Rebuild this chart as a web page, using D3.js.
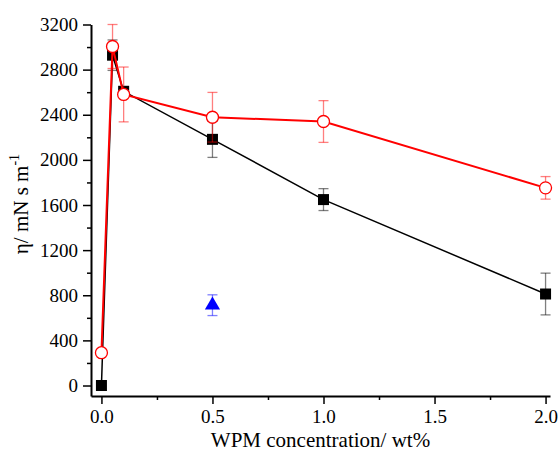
<!DOCTYPE html>
<html>
<head>
<meta charset="utf-8">
<script src="https://d3js.org/d3.v7.min.js"></script>
<style>
	body { margin: 0; background: #fff; }
</style>
</head>
<body>
<div id="plot"></div>
<script>
	// ----- Data -----
	const conc = [0, 0.05, 0.1, 0.5, 1.0, 2.0];
	const black_vals = [0, 2928, 2608, 2182, 1648, 811];
	const black_err = [0, 135, 20, 160, 97, 185];
	const red_vals = [291, 3005, 2580, 2378, 2340, 1752];
	const red_err = [0, 195, 243, 220, 185, 100];
	const blue_conc = [0.5];
	const blue_vals = [712];
	const blue_err = [92];
	const y_ticks = [0, 400, 800, 1200, 1600, 2000, 2400, 2800, 3200];
	const y_minor = [200, 600, 1000, 1400, 1800, 2200, 2600, 3000];
	const x_ticks = [0, 0.5, 1.0, 1.5, 2.0];
	const x_minor = [0.25, 0.75, 1.25, 1.75];

	const W = 559, H = 458;
	const plot_left = 91, plot_right = 550, plot_top = 24.5, plot_bottom = 396;
	const serif = "'Liberation Serif'";

	const svg = d3.select("#plot").append("svg")
		.attr("width", W)
		.attr("height", H);

	const x = d3.scaleLinear().domain([-0.047, 2.02]).range([plot_left, plot_right]);
	const y = d3.scaleLinear().domain([-93, 3200]).range([plot_bottom, plot_top]);

	// ----- Axes -----
	svg.append("g").attr("class", "axis")
		.attr("transform", "translate(0," + plot_bottom + ")")
		.call(d3.axisBottom(x).tickValues(x_ticks).tickFormat(d3.format(".1f"))
			.tickSize(8).tickSizeOuter(0).tickPadding(6));
	svg.append("g").attr("class", "axis")
		.attr("transform", "translate(0," + plot_bottom + ")")
		.call(d3.axisBottom(x).tickValues(x_minor).tickFormat("").tickSize(4).tickSizeOuter(0))
		.select(".domain").remove();

	svg.append("g").attr("class", "axis")
		.attr("transform", "translate(" + plot_left + ",0)")
		.call(d3.axisLeft(y).tickValues(y_ticks).tickFormat(d3.format("d"))
			.tickSize(8).tickSizeOuter(0).tickPadding(5));
	svg.append("g").attr("class", "axis")
		.attr("transform", "translate(" + plot_left + ",0)")
		.call(d3.axisLeft(y).tickValues(y_minor).tickFormat("").tickSize(4).tickSizeOuter(0))
		.select(".domain").remove();

	svg.selectAll(".axis").attr("font-family", null).attr("font-size", null);
	svg.selectAll(".axis .domain").attr("stroke", "#000").attr("stroke-width", 2);
	svg.selectAll(".axis line").attr("stroke", "#000").attr("stroke-width", 1.5);
	svg.selectAll(".axis text")
		.style("font-family", serif)
		.style("font-size", "19px")
		.attr("fill", "#000");

	// axis titles
	svg.append("text")
		.attr("x", (plot_left + plot_right) / 2)
		.attr("y", 447)
		.attr("text-anchor", "middle")
		.style("font-family", serif)
		.style("font-size", "21px")
		.text("WPM concentration/ wt%");

	const ylab = svg.append("text")
		.attr("transform", "translate(28,204) rotate(-90)")
		.attr("text-anchor", "middle")
		.style("font-family", serif)
		.style("font-size", "21px");
	ylab.append("tspan").text("η/ mN s m");
	ylab.append("tspan").attr("dy", -9).style("font-size", "14px").text("-1");

	// ----- Series -----
	const black = conc.map((c, i) => ({x: c, y: black_vals[i], e: black_err[i]}));
	const red = conc.map((c, i) => ({x: c, y: red_vals[i], e: red_err[i]}));
	const blue = blue_conc.map((c, i) => ({x: c, y: blue_vals[i], e: blue_err[i]}));

	const line = d3.line().x(d => x(d.x)).y(d => y(d.y));

	function errorBars(data, colour) {
		const g = svg.append("g")
			.attr("stroke", colour)
			.attr("stroke-opacity", 0.5)
			.attr("stroke-width", 1.3);
		const eb = data.filter(d => d.e > 0);
		g.selectAll(".v").data(eb).join("line")
			.attr("x1", d => x(d.x)).attr("x2", d => x(d.x))
			.attr("y1", d => y(d.y + d.e)).attr("y2", d => y(d.y - d.e));
		g.selectAll(".t").data(eb).join("line")
			.attr("x1", d => x(d.x) - 5).attr("x2", d => x(d.x) + 5)
			.attr("y1", d => y(d.y + d.e)).attr("y2", d => y(d.y + d.e));
		g.selectAll(".b").data(eb).join("line")
			.attr("x1", d => x(d.x) - 5).attr("x2", d => x(d.x) + 5)
			.attr("y1", d => y(d.y - d.e)).attr("y2", d => y(d.y - d.e));
	}

	// black squares
	svg.append("path").datum(black)
		.attr("d", line)
		.attr("fill", "none")
		.attr("stroke", "#000")
		.attr("stroke-width", 1.5);
	errorBars(black, "#000");
	svg.append("g").selectAll("rect").data(black).join("rect")
		.attr("x", d => x(d.x) - 5.5)
		.attr("y", d => y(d.y) - 5.5)
		.attr("width", 11)
		.attr("height", 11)
		.attr("fill", "#000");

	// red open circles
	svg.append("path").datum(red)
		.attr("d", line)
		.attr("fill", "none")
		.attr("stroke", "#ff0000")
		.attr("stroke-width", 2);
	errorBars(red, "#ff0000");
	svg.append("g").selectAll("circle").data(red).join("circle")
		.attr("cx", d => x(d.x))
		.attr("cy", d => y(d.y))
		.attr("r", 6)
		.attr("fill", "#fff")
		.attr("stroke", "#ff0000")
		.attr("stroke-width", 1.3);

	// blue triangle
	errorBars(blue, "#0000ff");
	svg.append("g").selectAll("path").data(blue).join("path")
		.attr("transform", d => "translate(" + x(d.x) + "," + y(d.y) + ")")
		.attr("d", d3.symbol(d3.symbolTriangle, 100))
		.attr("fill", "#0000ff");
</script>
</body>
</html>
